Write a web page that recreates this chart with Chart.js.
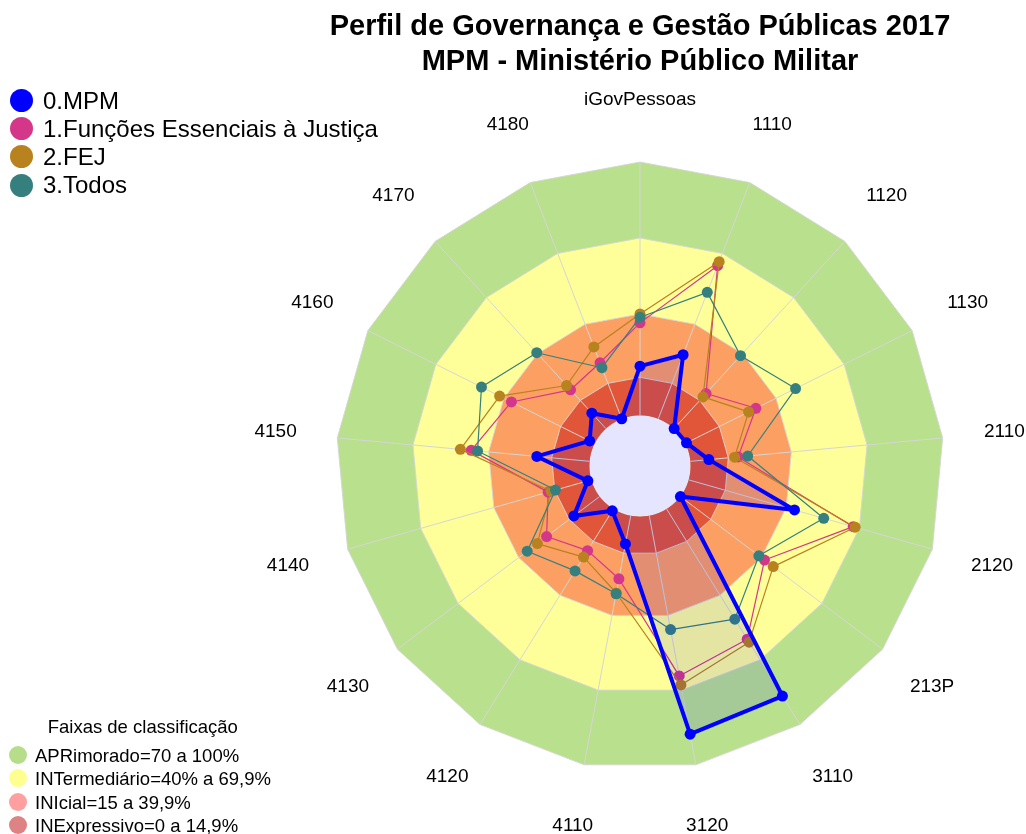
<!DOCTYPE html>
<html>
<head>
<meta charset="utf-8">
<script src="https://cdn.jsdelivr.net/npm/chart.js@4.4.0/dist/chart.umd.min.js"></script>
<style>
  body { margin: 0; background: #fff; font-family: 'Liberation Sans', Arial, sans-serif; }
  #wrap { position: relative; width: 1026px; height: 834px; overflow: hidden; }
  canvas { position: absolute; left: 0; top: 0; }
  .txt { position: absolute; white-space: nowrap; line-height: 1; color: #000; }
  .title { left: 240px; width: 800px; text-align: center; font-weight: bold; font-size: 29px; }
  .dot { position: absolute; border-radius: 50%; }
</style>
</head>
<body>
<div id="wrap">
  <canvas id="radar" width="1026" height="834"></canvas>
  <div class="txt title" style="top:10.5px">Perfil de Governança e Gestão Públicas 2017</div>
  <div class="txt title" style="top:45.5px">MPM - Ministério Público Militar</div>
  <div id="legendSeries"></div>
  <div id="legendBands"></div>
</div>
<script>
// eixos do radar
const axisLabels = ['iGovPessoas', '1110', '1120', '1130', '2110', '2120', '213P', '3110',
  '3120', '4110', '4120', '4130', '4140', '4150', '4160', '4170', '4180'];

// valores (%)
const mpm     = [19.4, 27.1, 0, 0.5, 7.3, 43.4, 0, 86.8, 87.7, 11.3, 0.8, 12.7, 1.4, 20.9, 2.2, 8.2, 0];
const funcoes = [36.5, 64.8, 18.7, 31.1, 18.9, 67.5, 41.6, 60.4, 64.3, 25.3, 19.3, 26.2, 17.7, 46.9, 36.7, 20.7, 23.7];
const fej     = [40, 66.5, 16.9, 27.9, 17.5, 68.3, 45.9, 61.8, 67.9, 31, 22.3, 30.8, 16.5, 51.2, 41.9, 23, 30.4];
const todos   = [38.7, 53.5, 38.9, 48.6, 22.7, 55.4, 38.8, 51.1, 45.7, 31.3, 28.7, 35.8, 14.7, 44.4, 49.9, 40.5, 21.6];

const seriesNames = ['0.MPM', '1.Funções Essenciais à Justiça', '2.FEJ', '3.Todos'];
const seriesColors = ['#0000ff', '#d4378a', '#b8821f', '#35807f'];

// faixas de classificação
const bandNames = ['APRimorado=70 a 100%', 'INTermediário=40% a 69,9%', 'INIcial=15 a 39,9%', 'INExpressivo=0 a 14,9%'];
const bandTops = [100, 70, 40, 15];
const bandFill = ['#b9e08d', '#ffff99', '#fc9f63', '#e15638'];
const bandKey = ['#b6dd8a', '#ffff8f', '#ff9f9f', '#de8383'];

const serie = (data, color, width) => ({
    data: data,
    borderColor: color,
    borderWidth: width,
    borderJoinStyle: 'round',
    backgroundColor: color,
    fill: false,
    pointRadius: 5.5,
    pointBackgroundColor: color,
    pointBorderWidth: 0
});

// index 0 is drawn on top
const datasets = [
    Object.assign(serie(mpm, seriesColors[0], 4), { fill: 'start', backgroundColor: 'rgba(0,0,255,0.1)' }),
    serie(todos, seriesColors[3], 1.2),
    serie(fej, seriesColors[2], 1.2),
    serie(funcoes, seriesColors[1], 1.2)
];
const firstBand = datasets.length;
for (let i = bandTops.length - 1; i >= 0; i--) {
    datasets.push({
        data: axisLabels.map(() => bandTops[i]),
        backgroundColor: bandFill[i],
        borderColor: 'rgba(214,214,214,0.9)',
        borderWidth: 1,
        pointRadius: 0,
        fill: 'origin'
    });
}

const radarExtras = {
    id: 'radarExtras',
    afterDatasetDraw(chart, args) {
        if (args.index !== firstBand) return;
        const r = chart.scales.r;
        const ctx = chart.ctx;
        ctx.save();
        ctx.strokeStyle = '#d6d6d6';
        ctx.lineWidth = 1;
        axisLabels.forEach((_, i) => {
            const a = r.getPointPositionForValue(i, 0);
            const b = r.getPointPositionForValue(i, 100);
            ctx.beginPath();
            ctx.moveTo(a.x, a.y);
            ctx.lineTo(b.x, b.y);
            ctx.stroke();
        });
        ctx.restore();
    },
    afterDraw(chart) {
        const r = chart.scales.r;
        const ctx = chart.ctx;
        ctx.save();
        ctx.fillStyle = '#000';
        ctx.font = "19px 'Liberation Sans', Arial, sans-serif";
        ctx.textAlign = 'center';
        ctx.textBaseline = 'middle';
        axisLabels.forEach((t, i) => {
            const p = r.getPointPosition(i, r.drawingArea + 62);
            ctx.fillText(t, p.x, p.y);
        });
        ctx.restore();
    }
};

new Chart(document.getElementById('radar'), {
    type: 'radar',
    data: { labels: axisLabels, datasets: datasets },
    options: {
        responsive: false,
        animation: false,
        devicePixelRatio: 1,
        events: [],
        layout: { padding: { left: 336, top: 162, right: 82, bottom: 64 } },
        plugins: { legend: { display: false }, tooltip: { enabled: false } },
        elements: { line: { tension: 0 } },
        scales: {
            r: {
                min: -20,
                max: 100,
                ticks: { display: false },
                grid: { display: false, circular: true },
                angleLines: { display: false },
                pointLabels: { display: false }
            }
        }
    },
    plugins: [radarExtras]
});

// legendas
const legS = document.getElementById('legendSeries');
seriesNames.forEach((name, i) => {
    const cy = 100.7 + i * 28.1;
    legS.insertAdjacentHTML('beforeend',
        `<div class="dot" style="left:10.2px;top:${cy - 11.5}px;width:23px;height:23px;background:${seriesColors[i]}"></div>` +
        `<div class="txt" style="left:43px;top:${cy + 8.6 - 20.3}px;font-size:24px">${name}</div>`);
});

const legB = document.getElementById('legendBands');
legB.insertAdjacentHTML('beforeend',
    `<div class="txt" style="left:47.7px;top:${733.3 - 15.7}px;font-size:18.5px">Faixas de classificação</div>`);
bandNames.forEach((name, i) => {
    const cy = 755 + i * 23.3;
    legB.insertAdjacentHTML('beforeend',
        `<div class="dot" style="left:9.3px;top:${cy - 9}px;width:18px;height:18px;background:${bandKey[i]}"></div>` +
        `<div class="txt" style="left:35px;top:${cy + 7.8 - 15.7}px;font-size:18.5px">${name}</div>`);
});
</script>
</body>
</html>
